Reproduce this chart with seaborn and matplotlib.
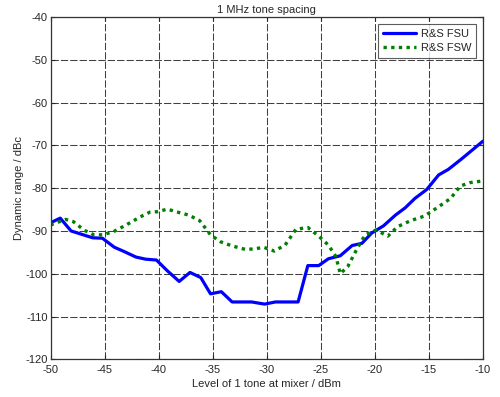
import matplotlib
matplotlib.use("Agg")
import matplotlib.pyplot as plt
import seaborn as sns
import pandas as pd

# level of 1 tone at mixer (dBm) and dynamic range (dBc)
fsu_x = [-50, -49.1, -48.1, -46.1, -45.2, -44.1, -43.2, -42.1, -41.2, -40.2,
         -39.2, -38.1, -37.1, -36.1, -35.2, -34.2, -33.2, -31.4, -30.2, -29.2,
         -27.1, -26.2, -25.2, -24.3, -23.2, -22.1, -21.2, -20.3, -19.2, -18.1,
         -17.2, -16.3, -15.2, -14.1, -13.2, -12.0, -10.0]
fsu_y = [-88.1, -87.0, -90.0, -91.6, -91.7, -93.8, -94.8, -96.1, -96.6, -96.8,
         -99.3, -101.8, -99.7, -100.9, -104.7, -104.2, -106.6, -106.6, -107.1, -106.6,
         -106.6, -98.1, -98.1, -96.5, -95.8, -93.4, -92.9, -90.5, -88.8, -86.3,
         -84.6, -82.4, -80.3, -76.9, -75.6, -73.2, -69.0]

fsw_x = [-50, -48.6, -47.9, -46.9, -46.0, -45.2, -44.2, -43.0, -41.7, -40.8,
         -40.1, -39.2, -38.1, -37.2, -36.2, -35.2, -34.3, -33.2, -32.0, -31.1,
         -30.3, -29.3, -28.3, -27.3, -26.2, -25.2, -24.3, -23.6, -23.2, -22.5,
         -21.7, -20.9, -19.9, -18.8, -17.9, -16.7, -15.4, -14.2, -13.0, -12.1,
         -11.2, -10.0]
fsw_y = [-88.6, -87.3, -87.8, -89.8, -90.9, -90.9, -90.2, -88.6, -86.7, -85.6,
         -85.5, -84.9, -85.7, -86.3, -87.6, -90.9, -92.5, -93.5, -94.3, -94.2,
         -93.8, -94.7, -93.3, -89.6, -89.2, -91.2, -93.3, -96.0, -100.0, -98.3,
         -94.4, -90.9, -89.8, -91.2, -89.0, -87.6, -86.5, -84.5, -82.4, -79.5,
         -78.7, -78.3]

x_ticks = list(range(-50, -9, 5))
y_ticks = list(range(-120, -39, 10))

sns.set_style("white")
plt.rcParams['font.family'] = ['Liberation Sans', 'DejaVu Sans']
plt.rcParams['axes.unicode_minus'] = False

fig = plt.figure(figsize=(5.0, 3.97), dpi=100)
ax = fig.add_axes([0.101, 0.095, 0.865, 0.862])

fsu = pd.DataFrame({"x": fsu_x, "y": fsu_y})
fsw = pd.DataFrame({"x": fsw_x, "y": fsw_y})
sns.lineplot(data=fsu, x="x", y="y", ax=ax, color="#0000ff", linewidth=2.3,
             label="R&S FSU", estimator=None)
sns.lineplot(data=fsw, x="x", y="y", ax=ax, color="#007f00", linewidth=2.4,
             linestyle=(0, (1, 1.3)), label="R&S FSW", estimator=None)

ax.set_xlim(-50, -10)
ax.set_ylim(-120, -40)
ax.set_xticks(x_ticks)
ax.set_yticks(y_ticks)
ax.grid(True, color="#404040", linestyle=(0, (7, 2)), linewidth=0.75)
ax.tick_params(direction="in", labelsize=8, length=3,
               top=True, right=True, bottom=True, left=True)
ax.tick_params(axis="x", pad=4)
ax.tick_params(axis="y", pad=2)
for s in ax.spines.values():
    s.set_color("#333333")
    s.set_linewidth(0.9)

ax.set_title("1 MHz tone spacing", fontsize=8, pad=3)
ax.set_xlabel("Level of 1 tone at mixer / dBm", fontsize=8, labelpad=3)
ax.set_ylabel("Dynamic range / dBc", fontsize=8, labelpad=1)

leg = ax.legend(loc="upper right", fontsize=8, frameon=True, fancybox=False,
                handlelength=3.0, borderaxespad=0.6, labelspacing=0.4,
                handletextpad=0.4, borderpad=0.45)
leg.get_frame().set_edgecolor("#333333")
leg.get_frame().set_linewidth(0.8)

fig.savefig("out.png", dpi=100)
